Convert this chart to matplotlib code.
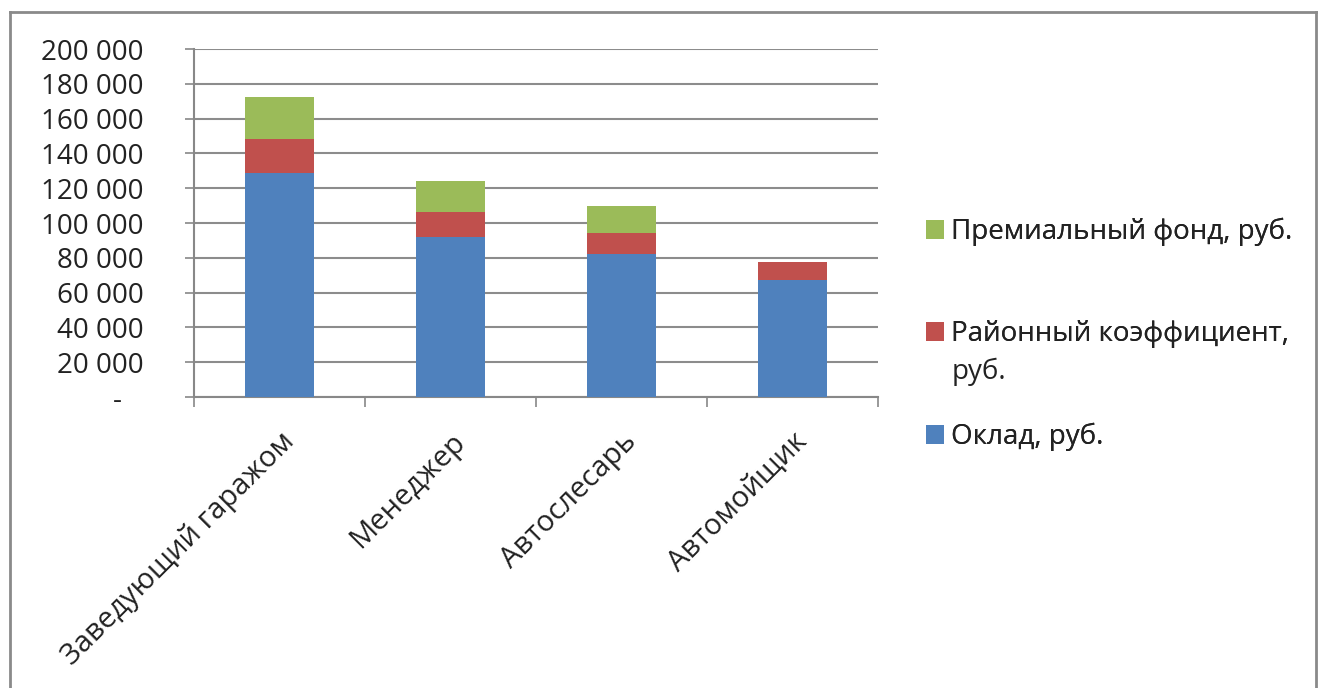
import matplotlib
matplotlib.use("Agg")
import matplotlib.pyplot as plt
from matplotlib.ticker import FuncFormatter, FixedLocator
from matplotlib.lines import Line2D
import numpy as np

plt.rcParams['font.family'] = ['Open Sans', 'DejaVu Sans']

categories = ["Заведующий гаражом", "Менеджер", "Автослесарь", "Автомойщик"]
oklad = [128600, 92200, 82100, 67100]
rayon = [19600, 14000, 12000, 10200]
premia = [24500, 17800, 15800, 0]
series_names = ["Оклад, руб.", "Районный коэффициент, руб.", "Премиальный фонд, руб."]
colors = ["#4F81BD", "#C0504D", "#9BBB59"]

W, H = 1322, 688
fig = plt.figure(figsize=(W / 100, H / 100), dpi=100)
ax = fig.add_axes([194 / W, 1 - 397 / H, (878 - 194) / W, (397 - 49) / H])

x = np.arange(len(categories))
bw = 0.4
b1 = ax.bar(x, oklad, bw, color=colors[0], zorder=3)
b2 = ax.bar(x, rayon, bw, bottom=oklad, color=colors[1], zorder=3)
bottom3 = np.array(oklad) + np.array(rayon)
b3 = ax.bar(x, premia, bw, bottom=bottom3, color=colors[2], zorder=3)

ax.set_xlim(-0.5, len(categories) - 0.5)
ax.set_ylim(0, 200000)
ax.set_yticks(np.arange(0, 200001, 20000))


def fmt(v, pos):
    if v == 0:
        return "-   "
    return "{:,}".format(int(v)).replace(",", " ")


ax.yaxis.set_major_formatter(FuncFormatter(fmt))
ax.tick_params(axis='y', length=6.5, width=1.2, color='#888888', pad=30, labelsize=20, labelcolor='#222222')
ax.grid(axis='y', color='#8c8c8c', linewidth=1.5, zorder=0)

ax.set_xticks(x)
ax.set_xticklabels(categories, rotation=45, ha='right', va='top', rotation_mode='anchor', fontsize=21, color='#222222')
ax.tick_params(axis='x', which='major', length=0, pad=22)
ax.xaxis.set_minor_locator(FixedLocator(np.arange(-0.5, len(categories), 1.0)))
ax.tick_params(axis='x', which='minor', length=7, width=1.2, color='#888888')

for s in ['top', 'right']:
    ax.spines[s].set_visible(False)
for s in ['left', 'bottom']:
    ax.spines[s].set_color('#888888')
    ax.spines[s].set_linewidth(1.5)

# chart frame
fc = '#8a8a8a'
fig.add_artist(Line2D([10 / W, 10 / W], [0, 1 - 12 / H], color=fc, lw=2, transform=fig.transFigure))
fig.add_artist(Line2D([10 / W, 1316 / W], [1 - 12 / H, 1 - 12 / H], color=fc, lw=2, transform=fig.transFigure))
fig.add_artist(Line2D([1316 / W, 1316 / W], [0, 1 - 12 / H], color=fc, lw=2, transform=fig.transFigure))

# legend entries (Excel-like layout, handle aligned with first line)
entries = [
    (b3, "Премиальный фонд, руб.", 232),
    (b2, "Районный коэффициент,", 334),
    (b1, "Оклад, руб.", 437),
]
for handle, label, yc in entries:
    lg = fig.legend([handle], [label], loc='center left', bbox_to_anchor=(926 / W, 1 - yc / H),
                    frameon=False, fontsize=20, handlelength=0.65, handleheight=0.65,
                    handletextpad=0.25, borderpad=0, borderaxespad=0, labelcolor='#222222')
    fig.add_artist(lg)
fig.text(952 / W, 1 - 372 / H, "руб.", fontsize=20, color='#222222', va='center', ha='left')

fig.savefig("out.png", dpi=100, facecolor='white')
